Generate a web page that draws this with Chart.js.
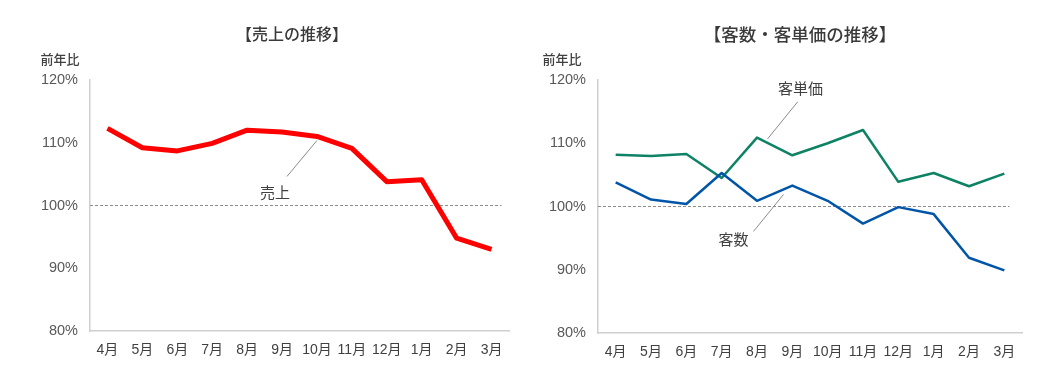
<!DOCTYPE html>
<html><head><meta charset="utf-8">
<script src="https://cdn.jsdelivr.net/npm/chart.js@4/dist/chart.umd.min.js"></script>
<style>
html,body{margin:0;padding:0;background:#fff;}
#wrap{position:relative;width:1050px;height:383px;overflow:hidden;}
.box{position:absolute;top:0;width:525px;height:383px;}
canvas{display:block;}
</style></head><body>
<div id="wrap">
  <div class="box" style="left:0"><canvas id="c1" width="525" height="383" style="width:525px;height:383px"></canvas></div>
  <div class="box" style="left:525px"><canvas id="c2" width="525" height="383" style="width:525px;height:383px"></canvas></div>
</div>
<script>
// ---- data ----
const months = ['4月','5月','6月','7月','8月','9月','10月','11月','12月','1月','2月','3月'];
const salesYoY     = [112.3,109.2,108.7,109.9,112.0,111.7,111.0,109.1,103.8,104.1,94.8,93.0];
const customersYoY = [103.8,101.1,100.4,105.3,100.9,103.3,100.9,97.3,99.9,98.8,91.9,89.9];
const avgSpendYoY  = [108.2,108.0,108.3,104.5,110.9,108.1,110.0,112.1,103.9,105.3,103.2,105.2];
const yMin = 80, yMax = 120, yStep = 10;
const baseline = 100;
const titleLeft = '【売上の推移】';
const titleRight = '【客数・客単価の推移】';
const yAxisTitle = '前年比';

const FONT = '"Liberation Sans", "Noto Sans CJK JP", sans-serif';
const CJK = '"Noto Sans CJK JP", sans-serif';

function decorPlugin(cfg){
  return {
    id:'decor',
    beforeDatasetsDraw(chart){
      const {ctx, chartArea, scales:{x,y}} = chart;
      const yy = Math.round(y.getPixelForValue(baseline))-0.5;
      ctx.save();
      ctx.strokeStyle = '#8c8c8c'; ctx.lineWidth = 1; ctx.setLineDash([3,2]);
      ctx.beginPath(); ctx.moveTo(chartArea.left, yy);
      ctx.lineTo(x.getPixelForValue(months.length-1)+cfg.dashExtra, yy); ctx.stroke();
      ctx.restore();
    },
    afterDraw(chart){
      const {ctx, scales:{x,y}} = chart;
      ctx.save();
      ctx.fillStyle = '#3a3a3a';
      ctx.textAlign = 'center'; ctx.textBaseline = 'middle';
      ctx.font = '500 ' + cfg.titleSize + 'px ' + CJK;
      ctx.fillText(cfg.title, cfg.titleX, 34);
      ctx.font = '500 13px ' + CJK;
      ctx.fillStyle = '#404040';
      ctx.fillText(yAxisTitle, cfg.yTitleX, 59);
      // annotations
      for (const a of cfg.notes){
        const data = a.data;
        const i0 = Math.floor(a.at), f = a.at - i0;
        const px = x.getPixelForValue(i0) + f*(x.getPixelForValue(i0+1)-x.getPixelForValue(i0));
        const py = y.getPixelForValue(data[i0] + f*(data[i0+1]-data[i0]));
        ctx.strokeStyle = '#8a8a8a'; ctx.lineWidth = 1; ctx.setLineDash([]);
        ctx.beginPath();
        ctx.moveTo(px + a.l1[0], py + a.l1[1]);
        ctx.lineTo(px + a.l2[0], py + a.l2[1]);
        ctx.stroke();
        ctx.fillStyle = '#404040';
        ctx.font = '15px ' + CJK;
        ctx.fillText(a.text, px + a.t[0], py + a.t[1]);
      }
      ctx.restore();
    }
  };
}

function makeChart(id, datasets, lay, cfg){
  return new Chart(document.getElementById(id), {
    type:'line',
    data:{labels:months, datasets},
    options:{
      responsive:false, animation:false, devicePixelRatio:1,
      layout:{padding:{left:0, right:lay.right, top:80, bottom:0}},
      plugins:{legend:{display:false}, tooltip:{enabled:false}, title:{display:false}},
      elements:{point:{radius:0}, line:{tension:0, borderJoinStyle:'round', borderCapStyle:'butt'}},
      scales:{
        x:{
          offset:true,
          grid:{display:false, drawTicks:false},
          border:{display:true, color:'#cfcfcf', width:1.5},
          ticks:{color:'#404040', font:{size:14, family:FONT}, padding:11, maxRotation:0, autoSkip:false},
          afterFit(s){ s.height = lay.xh; }
        },
        y:{
          min:yMin, max:yMax,
          grid:{display:false, drawTicks:false},
          border:{display:true, color:'#cfcfcf', width:1.5},
          ticks:{stepSize:yStep, color:'#595959', font:{size:14.5, family:FONT}, padding:12,
                 callback:v=>v+'%'},
          afterFit(s){ s.width = lay.yw; }
        }
      }
    },
    plugins:[decorPlugin(cfg)]
  });
}

makeChart('c1', [
  {label:'売上', data:salesYoY, borderColor:'#ff0000', borderWidth:5, fill:false}
], {right:16, xh:52, yw:90}, {
  title:titleLeft, titleSize:16, titleX:292, yTitleX:60, dashExtra:10,
  notes:[{text:'売上', data:salesYoY, at:6, l1:[0,4], l2:[-30,40], t:[-42,56]}]
});

makeChart('c2', [
  {label:'客数', data:customersYoY, borderColor:'#0055a8', borderWidth:2.5, fill:false},
  {label:'客単価', data:avgSpendYoY, borderColor:'#0e8264', borderWidth:2.5, fill:false}
], {right:28, xh:50, yw:73}, {
  title:titleRight, titleSize:17.5, titleX:275, yTitleX:37, dashExtra:5,
  notes:[
    {text:'客単価', data:avgSpendYoY, at:4.3, l1:[0,-4], l2:[30,-41], t:[33,-55]},
    {text:'客数', data:customersYoY, at:4.75, l1:[0,5], l2:[-30,42], t:[-50,50]}
  ]
});
</script>
</body></html>
